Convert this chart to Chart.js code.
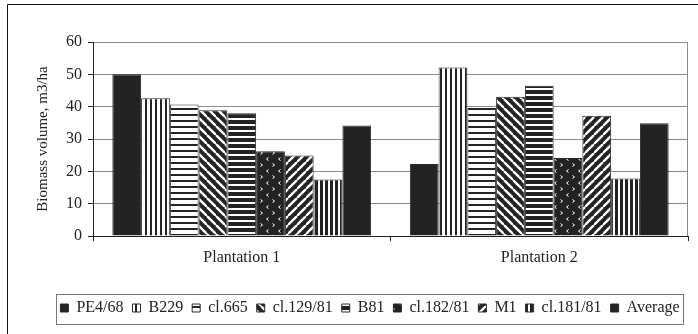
<!DOCTYPE html>
<html>
<head>
<meta charset="utf-8">
<script src="https://cdn.jsdelivr.net/npm/chart.js@4/dist/chart.umd.min.js"></script>
<style>
  html, body { margin: 0; padding: 0; background: #fff; }
  #wrap { width: 698px; height: 334px; position: relative; }
</style>
</head>
<body>
<div id="wrap"><canvas id="c" width="698" height="334"></canvas></div>
<script>
// ---- data ----
const categories = ['Plantation 1', 'Plantation 2'];
const seriesNames = ['PE4/68', 'B229', 'cl.665', 'cl.129/81', 'B81', 'cl.182/81', 'M1', 'cl.181/81', 'Average'];
const pe468   = [50.0, 22.3];
const b229    = [42.6, 52.1];
const cl665   = [40.7, 39.6];
const cl12981 = [38.9, 43.1];
const b81     = [38.0, 46.5];
const cl18281 = [26.2, 24.1];
const m1      = [24.9, 37.2];
const cl18181 = [17.5, 17.8];
const average = [34.2, 34.9];
const yTicks  = [0, 10, 20, 30, 40, 50, 60];
const yTitle  = 'Biomass volume, m3/ha';

// ---- patterns ----
const DARK = '#232323';
function makePattern(w, h, draw) {
  const c = document.createElement('canvas');
  c.width = w; c.height = h;
  const g = c.getContext('2d');
  g.fillStyle = '#fff'; g.fillRect(0, 0, w, h);
  draw(g, w, h);
  return g.createPattern(c, 'repeat');
}
const patVertLight = makePattern(5, 4, (g) => { g.fillStyle = DARK; g.fillRect(0, 0, 2, 4); });
const patHorzLight = makePattern(4, 6, (g) => { g.fillStyle = DARK; g.fillRect(0, 0, 4, 2); });
const patHorzDark  = makePattern(4, 6, (g) => { g.fillStyle = DARK; g.fillRect(0, 0, 4, 4); });
const patVertDark  = makePattern(5, 4, (g) => { g.fillStyle = DARK; g.fillRect(0, 0, 3, 4); });
function diag(dir) {
  return makePattern(9, 9, (g, w, h) => {
    g.fillStyle = DARK; g.fillRect(0, 0, w, h);
    g.strokeStyle = '#fff'; g.lineWidth = 2.4;
    for (let k = -1; k <= 1; k++) {
      g.beginPath();
      if (dir > 0) { g.moveTo(k * w, 0); g.lineTo(k * w + w, h); }
      else { g.moveTo(k * w + w, 0); g.lineTo(k * w, h); }
      g.stroke();
    }
  });
}
const patBack = diag(1);
const patFwd = diag(-1);
const patDots = makePattern(12, 12, (g) => {
  g.fillStyle = DARK; g.fillRect(0, 0, 12, 12);
  g.strokeStyle = '#fff'; g.lineWidth = 1;
  g.beginPath(); g.moveTo(4.5, 1.5); g.lineTo(2.5, 3); g.lineTo(4.5, 4.5); g.stroke();
  g.beginPath(); g.moveTo(8.5, 7.5); g.lineTo(10.5, 9); g.lineTo(8.5, 10.5); g.stroke();
});

const seriesValues = [pe468, b229, cl665, cl12981, b81, cl18281, m1, cl18181, average];
const fills = [DARK, patVertLight, patHorzLight, patBack, patHorzDark, patDots, patFwd, patVertDark, DARK];

const datasets = seriesNames.map((name, i) => ({
  label: name,
  data: seriesValues[i],
  backgroundColor: fills[i],
  borderColor: '#2a2a2a',
  borderWidth: 1,
  categoryPercentage: 0.87,
  barPercentage: 1.0
}));

const FONT = 'Liberation Serif';

const decor = {
  id: 'decor',
  afterLayout(chart) {
    // shift the legend row slightly right, as in the reference
    chart.legend.left += 14;
    chart.legend.right += 14;
  },
  beforeDraw(chart) {
    const ctx = chart.ctx;
    ctx.save();
    ctx.fillStyle = '#fff';
    ctx.fillRect(0, 0, chart.width, chart.height);
    ctx.restore();
  },
  afterDraw(chart) {
    const { ctx, chartArea: a, legend } = chart;
    ctx.save();
    // right plot border
    ctx.strokeStyle = '#8c8c8c';
    ctx.lineWidth = 1;
    ctx.beginPath();
    const rx = Math.round(a.right) - 0.5;
    ctx.moveTo(rx, a.top);
    ctx.lineTo(rx, a.bottom);
    ctx.stroke();
    // legend box
    const hb = legend.legendHitBoxes;
    let l = Infinity, r = -Infinity;
    hb.forEach(b => { l = Math.min(l, b.left); r = Math.max(r, b.left + b.width); });
    const cy = legend.top + legend.height / 2;
    ctx.strokeStyle = '#777';
    ctx.strokeRect(Math.round(l - 4) + 0.5, Math.round(cy - 15) + 0.5, Math.round(r - l + 8), 30);
    // outer frame
    ctx.strokeStyle = '#111';
    ctx.beginPath();
    ctx.moveTo(7.5, chart.height);
    ctx.lineTo(7.5, 4.5);
    ctx.lineTo(chart.width, 4.5);
    ctx.stroke();
    ctx.restore();
  }
};

new Chart(document.getElementById('c'), {
  type: 'bar',
  data: { labels: categories, datasets },
  options: {
    responsive: false,
    animation: false,
    devicePixelRatio: 1,
    layout: { padding: { left: 24, top: 42, right: 10, bottom: 8 } },
    plugins: {
      tooltip: { enabled: false },
      legend: {
        position: 'bottom',
        labels: {
          font: { family: FONT, size: 16 },
          color: '#222',
          boxWidth: 8,
          boxHeight: 8,
          padding: 9
        }
      }
    },
    scales: {
      x: {
        offset: true,
        grid: { display: true, drawOnChartArea: false, drawTicks: true, tickLength: 5, color: '#222', offset: true },
        border: { color: '#222', width: 1 },
        ticks: { font: { family: FONT, size: 16 }, color: '#222', padding: 7 },
        afterFit: (s) => { s.height = 55; }
      },
      y: {
        min: 0, max: 60,
        afterBuildTicks: (s) => { s.ticks = yTicks.map(v => ({ value: v })); },
        grid: { color: '#8c8c8c', lineWidth: 1, tickLength: 5, tickColor: '#222' },
        border: { color: '#222', width: 1 },
        ticks: { font: { family: FONT, size: 16 }, color: '#222', padding: 6 },
        title: { display: true, text: yTitle, font: { family: FONT, size: 15 }, color: '#222', padding: { top: 10, bottom: 0 } },
        afterFit: (s) => { s.width = 69; }
      }
    }
  },
  plugins: [decor]
});
</script>
</body>
</html>
